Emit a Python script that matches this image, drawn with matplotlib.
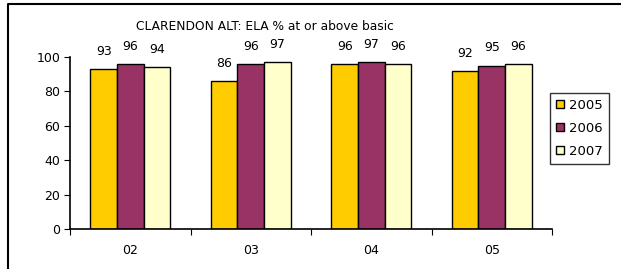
import matplotlib
matplotlib.use("Agg")
import matplotlib.pyplot as plt
from matplotlib.lines import Line2D
from matplotlib.patches import Patch
import numpy as np

plt.rcParams['font.family'] = ['DejaVu Sans']

# donnees
grades = ["02", "03", "04", "05"]
years = ["2005", "2006", "2007"]
v2005 = [93, 86, 96, 92]
v2006 = [96, 96, 97, 95]
v2007 = [94, 97, 96, 96]
colors = ["#FFCC00", "#993366", "#FFFFCC"]

fig = plt.figure(figsize=(6.21, 2.69), dpi=100)
ax = fig.add_axes([70/621, 1-229/269, (552-70)/621, (229-57)/269])

x = np.arange(len(grades))
w = 0.22
series = [v2005, v2006, v2007]
for i, vals in enumerate(series):
    pos = x + (i - 1) * w
    bars = ax.bar(pos, vals, w, color=colors[i], edgecolor="black", linewidth=1)
    for b, v in zip(bars, vals):
        ax.annotate(str(v), (b.get_x() + b.get_width()/2, v), xytext=(0, 8),
                    textcoords="offset points", ha="center", va="bottom", fontsize=9)

ax.set_xlim(-0.5, len(grades) - 0.5)
ax.set_ylim(0, 100)
ax.set_yticks(range(0, 101, 20))
ax.set_xticks(np.arange(len(grades) + 1) - 0.5)
ax.set_xticklabels([])
ax.set_xticks(x, minor=True)
ax.set_xticklabels(grades, minor=True)
ax.tick_params(axis="x", which="minor", length=0, pad=11, labelsize=9)
ax.tick_params(axis="x", which="major", length=4, direction="out")
ax.tick_params(axis="y", length=4, labelsize=9, pad=3)
for s in ["top", "right"]:
    ax.spines[s].set_visible(False)
ax.spines["left"].set_linewidth(1.2)
ax.spines["bottom"].set_linewidth(1.2)

fig.text(265/621, 1-27/269, "CLARENDON ALT: ELA % at or above basic",
         ha="center", va="center", fontsize=8.8)

handles = [Patch(facecolor=c, edgecolor="black", linewidth=1) for c in colors]
leg = fig.legend(handles, years, loc="upper left", bbox_to_anchor=(550/621, 1-93/269),
                 fontsize=9.5, frameon=True, fancybox=False, edgecolor="black",
                 handlelength=0.6, handleheight=0.6, handletextpad=0.4,
                 borderpad=0.45, labelspacing=0.75, borderaxespad=0)
leg.get_frame().set_linewidth(1)

# cadre de la page
fig.add_artist(Line2D([8/621, 8/621, 1.01], [-0.01, 1-4/269, 1-4/269], color="black",
                      linewidth=1.5, transform=fig.transFigure))

fig.savefig("out.png", dpi=100)
